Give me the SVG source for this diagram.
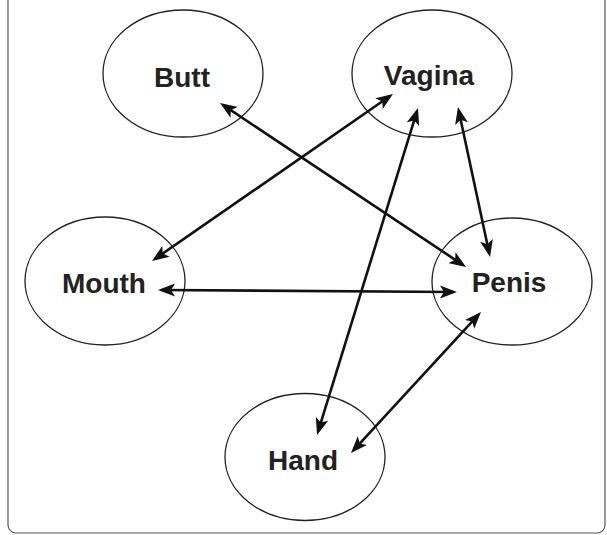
<svg xmlns="http://www.w3.org/2000/svg" width="607" height="535" viewBox="0 0 607 535">
<style>
.node ellipse{fill:#fff;stroke:#222;stroke-width:1.3}
.node text{font-family:"Liberation Sans",Arial,sans-serif;font-weight:bold;font-size:28px;fill:#222;text-anchor:middle}
.edges line{stroke:#111;stroke-width:2.6;marker-start:url(#ah);marker-end:url(#ah)}
</style>
<defs>
<marker id="ah" markerUnits="userSpaceOnUse" viewBox="0 0 17 13" refX="13" refY="6.5" markerWidth="17" markerHeight="13" orient="auto-start-reverse">
<path d="M0,0 L17,6.5 L0,13 L4,6.5 Z" fill="#111"/>
</marker>
</defs>
<rect x="8" y="-20" width="597" height="553" rx="8" fill="none" stroke="#555" stroke-width="1.2"/>
<g id="butt" class="node"><ellipse cx="183" cy="73.5" rx="80" ry="63.5"/><text x="182" y="87">Butt</text></g>
<g id="vagina" class="node"><ellipse cx="432" cy="73.5" rx="80" ry="63.5"/><text x="429" y="85">Vagina</text></g>
<g id="mouth" class="node"><ellipse cx="105" cy="281" rx="80" ry="64"/><text x="104" y="293">Mouth</text></g>
<g id="penis" class="node"><ellipse cx="512" cy="281.5" rx="80" ry="63.5"/><text x="509" y="292">Penis</text></g>
<g id="hand" class="node"><ellipse cx="305" cy="457" rx="80" ry="63.5"/><text x="303" y="470">Hand</text></g>
<g id="edges" class="edges">
<line x1="223.3" y1="105.2" x2="462.7" y2="264.8"/>
<line x1="389.7" y1="96.3" x2="155.3" y2="258.7"/>
<line x1="416.8" y1="111.8" x2="318.2" y2="431.2"/>
<line x1="458.8" y1="110.9" x2="489.2" y2="253.1"/>
<line x1="162" y1="290" x2="453" y2="292"/>
<line x1="478.3" y1="314.9" x2="353.7" y2="450.1"/>
</g>
</svg>
